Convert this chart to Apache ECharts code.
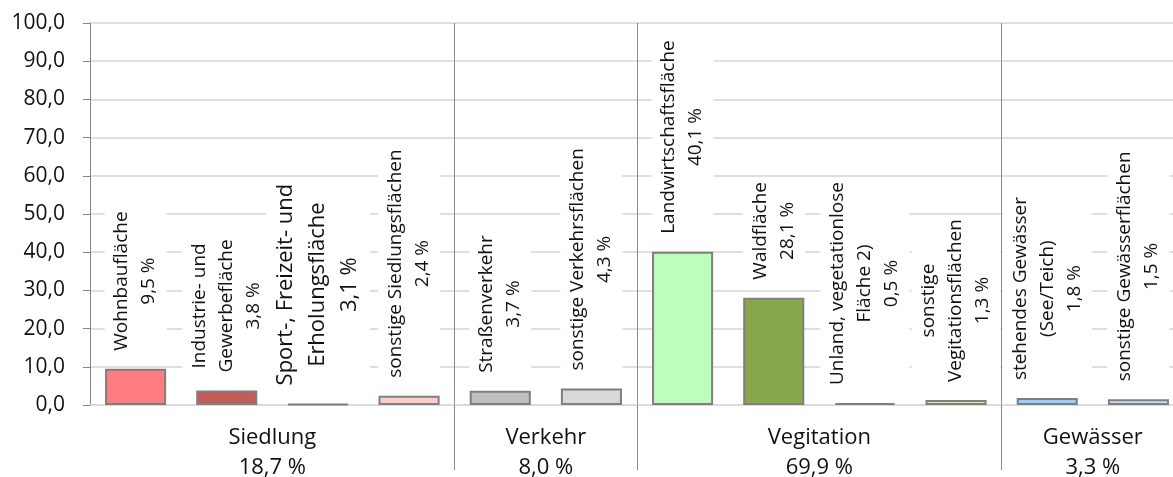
<!DOCTYPE html>
<html>
<head>
<meta charset="utf-8">
<script src="https://cdn.jsdelivr.net/npm/echarts@6/dist/echarts.min.js"></script>
<style>
  html, body { margin: 0; padding: 0; background: #fff; }
  #chart { width: 1173px; height: 477px; }
</style>
</head>
<body>
<div id="chart"></div>
<script>
// ---- data ----
const categories = [
  'Wohnbaufläche',
  'Industrie- und\nGewerbefläche',
  'Sport-, Freizeit- und\nErholungsfläche',
  'sonstige Siedlungsflächen',
  'Straßenverkehr',
  'sonstige Verkehrsflächen',
  'Landwirtschaftsfläche',
  'Waldfläche',
  'Unland, vegetationlose\nFläche 2)',
  'sonstige\nVegitationsflächen',
  'stehendes Gewässer\n(See/Teich)',
  'sonstige Gewässerflächen'
];
// printed shares (labels)
const shareLabels = ['9,5 %', '3,8 %', '3,1 %', '2,4 %', '3,7 %', '4,3 %', '40,1 %', '28,1 %', '0,5 %', '1,3 %', '1,8 %', '1,5 %'];
// bar heights as drawn in the picture
const barHeights = [9.5, 3.8, 0.3, 2.4, 3.7, 4.3, 40.1, 28.1, 0.5, 1.3, 1.8, 1.5];
const barColors = ['#FF7C80', '#C55B57', '#8C8C8C', '#FFCCCC', '#BFBFBF', '#D9D9D9', '#BBFFBB', '#86A84A', '#808080', '#CCFF99', '#99CCFF', '#C9DEF5'];

const groupNames = ['Siedlung', 'Verkehr', 'Vegitation', 'Gewässer'];
const groupTotals = ['18,7 %', '8,0 %', '69,9 %', '3,3 %'];
const groupSizes = [4, 2, 4, 2];

const yTicks = [0, 10, 20, 30, 40, 50, 60, 70, 80, 90, 100];

// ---- build ----
const FONT = '"Open Sans", "Noto Sans", sans-serif';
const nCat = categories.length;
const boundaryLabels = new Array(nCat + 1).fill('');
const separators = [];
let start = 0;
groupSizes.forEach((s, g) => {
  boundaryLabels[start + s / 2] = groupNames[g] + '\n' + groupTotals[g];
  start += s;
  if (start < nCat) separators.push(start);
});
const isSep = (idx) => separators.indexOf(idx) >= 0;

const bigLabelIndex = categories.indexOf('Sport-, Freizeit- und\nErholungsfläche');

const chart = echarts.init(document.getElementById('chart'), null, { renderer: 'canvas' });
chart.setOption({
  animation: false,
  backgroundColor: '#fff',
  grid: { left: 90, right: -11, top: 23, bottom: 72, containLabel: false, outerBoundsMode: 'none' },
  xAxis: [
    {
      type: 'category',
      data: categories,
      axisLabel: { show: false },
      axisTick: { show: false },
      axisLine: { show: true, lineStyle: { color: '#d9d9d9', width: 1.5 } },
      splitLine: { show: false }
    },
    {
      type: 'category',
      data: boundaryLabels,
      boundaryGap: false,
      position: 'bottom',
      axisLine: { show: false },
      axisTick: {
        show: true, length: 65, inside: false,
        interval: (idx) => isSep(idx),
        lineStyle: { color: '#8a8a8a', width: 1 }
      },
      splitLine: {
        show: true,
        interval: (idx) => isSep(idx),
        lineStyle: { color: '#8a8a8a', width: 1 }
      },
      axisLabel: {
        interval: 0, margin: 18,
        fontFamily: FONT, fontSize: 22, lineHeight: 30, color: '#111'
      }
    }
  ],
  yAxis: {
    type: 'value',
    min: yTicks[0],
    max: yTicks[yTicks.length - 1],
    interval: yTicks[1] - yTicks[0],
    axisLine: { show: true, lineStyle: { color: '#868686', width: 1 } },
    axisTick: { show: true, length: 7, lineStyle: { color: '#868686' } },
    splitLine: { show: true, lineStyle: { color: '#d4d4d4', width: 1.5 } },
    axisLabel: {
      margin: 25, fontFamily: FONT, fontSize: 21, color: '#111',
      formatter: (v) => v.toFixed(1).replace('.', ',')
    }
  },
  series: [{
    type: 'bar',
    xAxisIndex: 0,
    barWidth: '67%',
    data: barHeights.map((v, i) => ({
      value: v,
      itemStyle: { color: barColors[i], borderColor: '#7F7F7F', borderWidth: 2 }
    })),
    label: {
      show: true,
      position: 'top',
      rotate: 90,
      align: 'left',
      verticalAlign: 'middle',
      distance: 14,
      backgroundColor: '#fff',
      padding: [4, 4],
      formatter: (p) => {
        const key = p.dataIndex === bigLabelIndex ? 'b' : 'n';
        const lines = categories[p.dataIndex].split('\n');
        lines.push(shareLabels[p.dataIndex]);
        return lines.map((l) => '{' + key + '|' + l + '}').join('\n');
      },
      rich: {
        n: { fontFamily: FONT, fontSize: 19, lineHeight: 27, align: 'center', color: '#111' },
        b: { fontFamily: FONT, fontSize: 22, lineHeight: 32, align: 'center', color: '#111' }
      }
    }
  }]
});
</script>
</body>
</html>
